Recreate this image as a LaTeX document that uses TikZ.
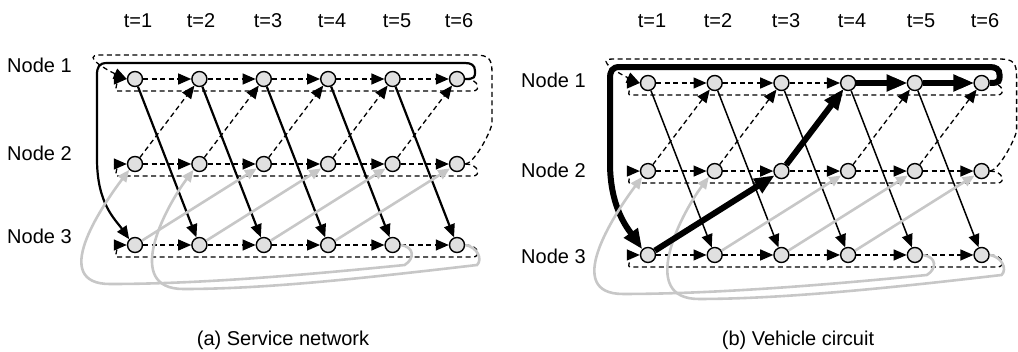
\documentclass[tikz,border=0pt]{standalone}
\usepackage{fontspec}
\setmainfont{Liberation Sans}
\usetikzlibrary{arrows.meta,calc}

\definecolor{slotfill}{gray}{0.88}
\definecolor{paleline}{gray}{0.78}

\tikzset{
  slot/.style={circle, draw, line width=1.4pt, fill=slotfill, minimum size=15pt, inner sep=0pt},
  wait/.style={dash pattern=on 5pt off 3.5pt, line width=1.3pt, -{Triangle[length=13pt,width=11pt]}},
  svc/.style={line width=2.2pt, -{Triangle[length=13pt,width=11pt]}},
  svcthin/.style={line width=1.5pt, -{Triangle[length=13pt,width=11pt]}},
  deadhead/.style={color=paleline, line width=2.6pt, -{Triangle[length=12pt,width=10pt]}},
  tour/.style={line width=6pt, -{Triangle[length=20pt,width=16pt]}},
  lbl/.style={font=\fontsize{20}{24}\selectfont, inner sep=0pt},
}

% #1 prefix, #2 #3 first slot, #4 scale, #5 service style, #6 style of the closing service arc
\newcommand\timenet[6]{%
  \foreach \row/\yy in {1/0,2/85,3/166}
    \foreach \col in {1,...,6}
      \node[slot] (#1\row\col) at ({#2+(\col-1)*64.4*#4},{#3+\yy*#4}) {};
  % waiting arcs, each row closed by a return arc
  \foreach \row in {1,2,3}{
    \foreach \col [count=\nxt from 2] in {1,...,5}
      \draw[wait] (#1\row\col) -- (#1\row\nxt);
    \draw[wait] (#1\row6.east) .. controls +(14,0) and +(8,0) .. ($(#1\row6)+(16,12)$)
      -- ($(#1\row1)+(-18,12)$) .. controls +(-4,0) and +(-6,0) .. (#1\row1.west);
  }
  % empty moves node 2 -> node 1
  \foreach \col [count=\nxt from 2] in {1,...,5}
    \draw[wait] (#12\col) -- (#11\nxt);
  \draw[wait] (#126.east) .. controls +(8,0) and +(-3,12) .. ($(#126)+(35,-40)$)
    -- ($(#116)+(35,-6)$) .. controls +(0,-14) and +(14,0) .. ($(#116)+(18,-24)$)
    -- ($(#111)+(-35,-24)$) .. controls +(-20,0) and +(-18,-8) .. (#111.west);
  % service node 1 -> node 3
  \foreach \col [count=\nxt from 2] in {1,...,5}
    \draw[#5] (#11\col) -- (#13\nxt);
  \draw[#6] (#116.east) .. controls +(10,0) and +(0,6) .. ($(#116)+(18,-8)$)
    .. controls +(0,-6) and +(6,0) .. ($(#116)+(8,-16)$)
    -- ($(#111)+(-28,-16)$) .. controls +(-8,0) and +(0,-8) .. ($(#111)+(-38,-4)$)
    -- ($(#111)+(-38,80)$) .. controls +(0,45) and +(-14,-20) .. (#131.north west);
  % repositioning node 3 -> node 2, two periods
  \foreach \col [count=\nxt from 3] in {1,...,4}
    \draw[deadhead] (#13\col) -- (#12\nxt);
  \draw[deadhead] (#135.east) .. controls +(14,2) and +(10,-6) .. ($(#135)+(12,20)$)
    .. controls +(-120,12) and +(80,0) .. ($(#131)+(-25,39)$)
    .. controls +(-60,0) and +(-30,40) .. (#121.south west);
  \draw[deadhead] (#136.east) .. controls +(12,2) and +(6,-6) .. ($(#136)+(20,20)$)
    .. controls +(-120,14) and +(80,0) .. ($(#132)+(-16,44)$)
    .. controls +(-60,0) and +(-30,40) .. (#122.south west);
}

\begin{document}
\begin{tikzpicture}[x=1pt,y=-1pt]
\useasboundingbox (0,0) rectangle (1018,351);

% (a) service network
\foreach \xx [count=\i] in {138,201,268,332,397,459}
  \node[lbl, anchor=base] (ta\i) at (\xx,27) {t=\i};
\foreach \yy [count=\i] in {72,160,243}
  \node[lbl, anchor=base west] (na\i) at (7,\yy) {Node \i};
\timenet{a}{135}{79}{1}{svc}{svc}
\node[lbl, anchor=base] (capa) at (283,345) {(a) Service network};

% (b) vehicle circuit
\foreach \xx [count=\i] in {652,718,786,852,921,985}
  \node[lbl, anchor=base] (tb\i) at (\xx,27) {t=\i};
\foreach \yy [count=\i] in {87,177,263}
  \node[lbl, anchor=base west] (nb\i) at (521,\yy) {Node \i};
\timenet{b}{648}{83}{1.036}{svcthin}{tour}
\draw[tour] (b31) -- (b23);
\draw[tour] (b23) -- (b14);
\draw[tour] (b14) -- (b15);
\draw[tour] (b15) -- (b16);
\node[lbl, anchor=base] (capb) at (798,345) {(b) Vehicle circuit};
\end{tikzpicture}
\end{document}
